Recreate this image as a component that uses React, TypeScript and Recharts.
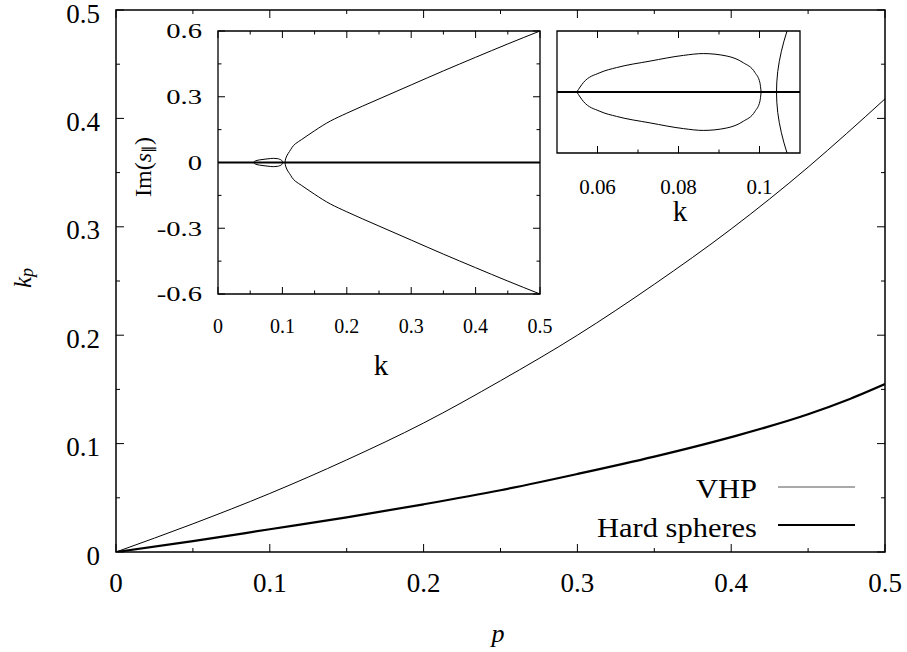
import { Line, LineChart, ReferenceArea, XAxis, YAxis } from "recharts";

const SERIF = "'Liberation Serif', 'Times New Roman', serif";

// main panel: k_p versus p
const pValues = [0, 0.05, 0.1, 0.15, 0.2, 0.25, 0.3, 0.35, 0.4, 0.45, 0.475, 0.5];
const kpVhp = [0, 0.026, 0.054, 0.085, 0.119, 0.158, 0.2, 0.247, 0.298, 0.355, 0.386, 0.418];
const kpHardSpheres = [0, 0.01, 0.021, 0.032, 0.044, 0.057, 0.072, 0.088, 0.106, 0.127, 0.14, 0.155];
const mainTicks = [0, 0.05, 0.1, 0.15, 0.2, 0.25, 0.3, 0.35, 0.4, 0.45, 0.5];
const mainLabeled = [0, 0.1, 0.2, 0.3, 0.4, 0.5];

// insets: Im(s) versus k
const zeroK = [0, 0.5];
const zeroIm = [0, 0];
const loopUpperK = [0.0549, 0.0565, 0.0606, 0.0647, 0.073, 0.0812, 0.0861, 0.0919, 0.096, 0.0989, 0.1001, 0.1004];
const loopUpperIm = [0, 0.0046, 0.0095, 0.012, 0.0152, 0.018, 0.0189, 0.0177, 0.0144, 0.0095, 0.0046, 0];
const loopLowerK = [0.0549, 0.0565, 0.0606, 0.0647, 0.073, 0.0812, 0.0861, 0.0919, 0.096, 0.0989, 0.1001, 0.1004];
const loopLowerIm = [0, -0.0046, -0.0095, -0.012, -0.0152, -0.018, -0.0189, -0.0177, -0.0144, -0.0095, -0.0046, 0];
const branchIm = [
  0.6, 0.541, 0.48, 0.418, 0.354, 0.29, 0.225, 0.19, 0.145, 0.105, 0.085, 0.05, 0.03, 0.02, 0.01, 0,
  -0.01, -0.02, -0.03, -0.05, -0.085, -0.105, -0.145, -0.19, -0.225, -0.29, -0.354, -0.418, -0.48,
  -0.541, -0.6,
];
const branchK = [
  0.5, 0.45, 0.4, 0.35, 0.3, 0.25, 0.2, 0.175, 0.15, 0.13, 0.12, 0.111, 0.1068, 0.1054, 0.1045,
  0.1042, 0.1045, 0.1054, 0.1068, 0.111, 0.12, 0.13, 0.15, 0.175, 0.2, 0.25, 0.3, 0.35, 0.4, 0.45,
  0.5,
];
const inset1XTicks = [0, 0.05, 0.1, 0.15, 0.2, 0.25, 0.3, 0.35, 0.4, 0.45, 0.5];
const inset1XLabeled = [0, 0.1, 0.2, 0.3, 0.4, 0.5];
const inset1YTicks = [-0.6, -0.45, -0.3, -0.15, 0, 0.15, 0.3, 0.45, 0.6];
const inset1YLabeled = [-0.6, -0.3, 0, 0.3, 0.6];
const inset2XTicks = [0.06, 0.07, 0.08, 0.09, 0.1];
const inset2XLabeled = [0.06, 0.08, 0.1];

const toPoints = (ks: number[], ims: number[]) => ks.map((k, i) => ({ k, im: ims[i] }));
const mainData = pValues.map((p, i) => ({ p, vhp: kpVhp[i], hs: kpHardSpheres[i] }));
const zeroData = toPoints(zeroK, zeroIm);
const loopUpper = toPoints(loopUpperK, loopUpperIm);
const loopLower = toPoints(loopLowerK, loopLowerIm);
const branchData = toPoints(branchK, branchIm);

type TickOpts = {
  side: "left" | "bottom";
  labeled: number[];
  span: number;
  major: number;
  minor: number;
  gap: number;
  fontSize: number;
  scaleX?: number;
  dy?: number;
};

function makeTick(o: TickOpts) {
  return function Tick(props: any) {
    const { x, y, payload } = props;
    const v = payload.value as number;
    const isMajor = o.labeled.some((m) => Math.abs(m - v) < 1e-9);
    const len = isMajor ? o.major : o.minor;
    const label = isMajor ? String(+v.toFixed(3)) : "";
    const sx = o.scaleX ?? 1;
    const dy = o.dy ?? 0;
    if (o.side === "left") {
      return (
        <g>
          <line x1={x} x2={x + len} y1={y} y2={y} stroke="#000" />
          <line x1={x + o.span} x2={x + o.span - len} y1={y} y2={y} stroke="#000" />
          {label && (
            <text
              transform={`translate(${x - o.gap},${y + dy}) scale(${sx},1)`}
              textAnchor="end"
              dominantBaseline="central"
              fontFamily={SERIF}
              fontSize={o.fontSize}
              fill="#000"
            >
              {label}
            </text>
          )}
        </g>
      );
    }
    return (
      <g>
        <line x1={x} x2={x} y1={y} y2={y - len} stroke="#000" />
        <line x1={x} x2={x} y1={y - o.span} y2={y - o.span + len} stroke="#000" />
        {label && (
          <text
            transform={`translate(${x},${y + o.gap}) scale(${sx},1)`}
            textAnchor="middle"
            dominantBaseline="central"
            fontFamily={SERIF}
            fontSize={o.fontSize}
            fill="#000"
          >
            {label}
          </text>
        )}
      </g>
    );
  };
}

const axisBase = {
  type: "number" as const,
  allowDataOverflow: true,
  interval: 0 as const,
  tickSize: 0,
  tickMargin: 0,
  axisLine: false,
  tickLine: false,
};

function MainChart() {
  return (
    <LineChart
      width={907}
      height={652}
      data={mainData}
      margin={{ top: 10, right: 22, bottom: 99, left: 115 }}
    >
      <XAxis
        {...axisBase}
        dataKey="p"
        domain={[0, 0.5]}
        ticks={mainTicks}
        height={1}
        tick={makeTick({ side: "bottom", labeled: mainLabeled, span: 542, major: 8, minor: 4, gap: 31, fontSize: 27 })}
      />
      <YAxis
        {...axisBase}
        domain={[0, 0.5]}
        ticks={mainTicks}
        width={1}
        tick={makeTick({ side: "left", labeled: mainLabeled, span: 769, major: 8, minor: 4, gap: 16, fontSize: 27, dy: 3.5 })}
      />
      <ReferenceArea x1={0} x2={0.5} y1={0} y2={0.5} fill="none" stroke="#000" strokeWidth={1.5} />
      <Line type="monotone" dataKey="vhp" stroke="#000" strokeWidth={1} dot={false} isAnimationActive={false} />
      <Line type="monotone" dataKey="hs" stroke="#000" strokeWidth={2.2} dot={false} isAnimationActive={false} />
    </LineChart>
  );
}

function InsetCurves() {
  return (
    <>
      <Line data={zeroData} type="linear" dataKey="im" stroke="#000" strokeWidth={1.8} dot={false} isAnimationActive={false} />
      <Line data={loopUpper} type="monotone" dataKey="im" stroke="#000" strokeWidth={1} dot={false} isAnimationActive={false} />
      <Line data={loopLower} type="monotone" dataKey="im" stroke="#000" strokeWidth={1} dot={false} isAnimationActive={false} />
      <Line data={branchData} type="monotoneY" dataKey="im" stroke="#000" strokeWidth={1} dot={false} isAnimationActive={false} />
    </>
  );
}

function InsetWide() {
  return (
    <LineChart width={430} height={370} margin={{ top: 21, right: 20, bottom: 85, left: 87 }}>
      <XAxis
        {...axisBase}
        dataKey="k"
        domain={[0, 0.5]}
        ticks={inset1XTicks}
        height={1}
        tick={makeTick({ side: "bottom", labeled: inset1XLabeled, span: 263, major: 7, minor: 3.5, gap: 32, fontSize: 20 })}
      />
      <YAxis
        {...axisBase}
        domain={[-0.6, 0.6]}
        ticks={inset1YTicks}
        width={1}
        tick={makeTick({ side: "left", labeled: inset1YLabeled, span: 322, major: 7, minor: 3.5, gap: 16, fontSize: 22, scaleX: 1.3 })}
      />
      <ReferenceArea x1={0} x2={0.5} y1={-0.6} y2={0.6} fill="#fff" fillOpacity={1} stroke="#000" strokeWidth={1.3} />
      {InsetCurves()}
    </LineChart>
  );
}

function InsetZoom() {
  return (
    <LineChart width={280} height={210} margin={{ top: 21, right: 20, bottom: 66, left: 16 }}>
      <XAxis
        {...axisBase}
        dataKey="k"
        domain={[0.05, 0.11]}
        ticks={inset2XTicks}
        height={1}
        tick={makeTick({ side: "bottom", labeled: inset2XLabeled, span: 122, major: 7, minor: 3.5, gap: 34, fontSize: 20, scaleX: 1.05 })}
      />
      <YAxis {...axisBase} domain={[-0.03, 0.03]} width={1} tick={false} />
      <ReferenceArea x1={0.05} x2={0.11} y1={-0.03} y2={0.03} fill="#fff" fillOpacity={1} stroke="#000" strokeWidth={1.3} />
      {InsetCurves()}
    </LineChart>
  );
}

function Annotations() {
  return (
    <svg width={907} height={652} style={{ position: "absolute", left: 0, top: 0, pointerEvents: "none" }}>
      <g fontFamily={SERIF} fill="#000">
        <text transform="translate(22,278) rotate(-90)" textAnchor="middle" dominantBaseline="central" fontSize={25} fontStyle="italic">
          k<tspan fontSize={18} dy={5}>p</tspan>
        </text>
        <text x={498} y={633} textAnchor="middle" dominantBaseline="central" fontSize={26} fontStyle="italic">
          p
        </text>
        <text transform="translate(143,167) rotate(-90)" textAnchor="middle" dominantBaseline="central" fontSize={24}>
          Im(<tspan fontStyle="italic">s</tspan>
          <tspan fontSize={15} dy={5}>∥</tspan>
          <tspan dy={-5}>)</tspan>
        </text>
        <text x={381} y={365} textAnchor="middle" dominantBaseline="central" fontSize={29}>
          k
        </text>
        <text x={680} y={211} textAnchor="middle" dominantBaseline="central" fontSize={29}>
          k
        </text>
        <text transform="translate(757,488) scale(1.09,1)" textAnchor="end" dominantBaseline="central" fontSize={28}>
          VHP
        </text>
        <text transform="translate(757,527) scale(1.09,1)" textAnchor="end" dominantBaseline="central" fontSize={28}>
          Hard spheres
        </text>
      </g>
      <line x1={778} x2={855} y1={487} y2={487} stroke="#555" strokeWidth={1} />
      <line x1={778} x2={855} y1={525} y2={525} stroke="#000" strokeWidth={2.2} />
    </svg>
  );
}

export default function App() {
  return (
    <div style={{ position: "absolute", left: 0, top: 0, width: 907, height: 652, background: "#fff", fontFamily: SERIF }}>
      <div style={{ position: "absolute", left: 0, top: 0 }}>
        <MainChart />
      </div>
      <div style={{ position: "absolute", left: 130, top: 10 }}>
        <InsetWide />
      </div>
      <div style={{ position: "absolute", left: 540, top: 10 }}>
        <InsetZoom />
      </div>
      <Annotations />
    </div>
  );
}
